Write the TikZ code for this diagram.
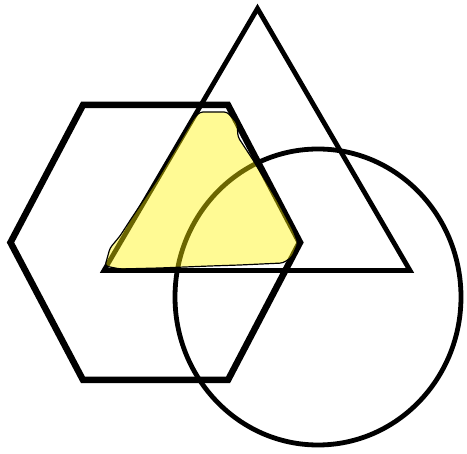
\documentclass[tikz,border=0pt]{standalone}
\begin{document}
\begin{tikzpicture}[x=1pt,y=-1pt,
  shape line/.style={draw=black, line join=miter},
  overlap/.style={fill=yellow, fill opacity=0.42, draw=black, line width=1.2pt, rounded corners=3pt}]
\useasboundingbox (0,0) rectangle (467,454);
% hexagon
\draw[shape line, line width=6.5pt] (10.5,242.5) -- (83,105) -- (228,105) -- (300,242.5) -- (228,380) -- (83,380) -- cycle;
% triangle
\draw[shape line, line width=4.8pt] (257.5,8.5) -- (410,270.5) -- (104,270.5) -- cycle;
% circle
\draw[shape line, line width=4.8pt] (318,297) ellipse [x radius=143, y radius=148];
% highlighted overlap
\path[overlap] (105,266) -- (110,248) -- (120,236) -- (131,219) -- (157,180) -- (194,118) -- (200,112) -- (227,112) -- (237,123) -- (238,137) -- (253,160) -- (277,200) -- (293,230) -- (298,243) -- (292,257) -- (283,263) -- (240,265) -- (210,266) -- (160,268) -- (120,269) -- cycle;
\end{tikzpicture}
\end{document}
